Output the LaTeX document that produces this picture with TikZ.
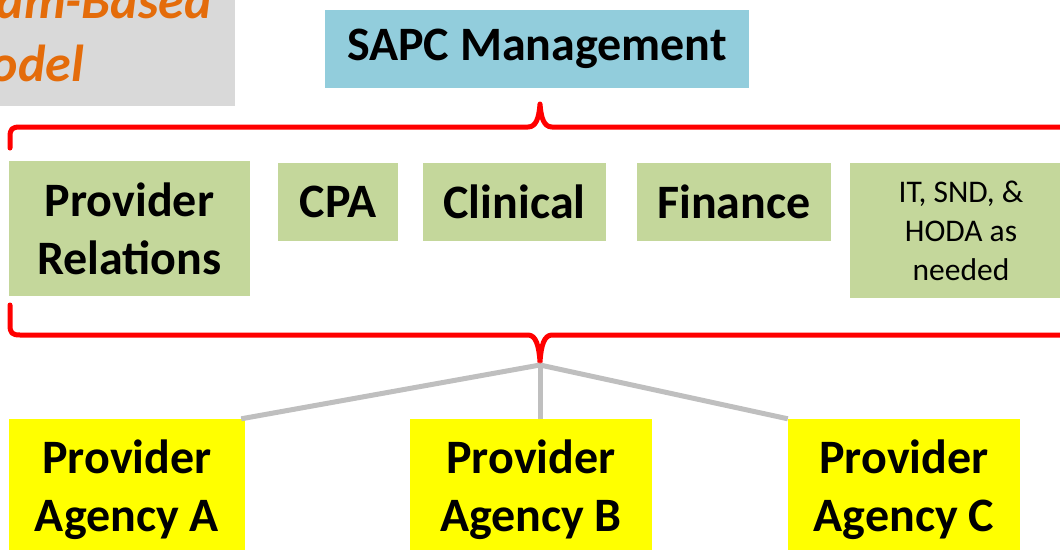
\documentclass[tikz,border=0pt]{standalone}
\usepackage{fontspec}
\setmainfont{Carlito}
\definecolor{titlegray}{RGB}{217,217,217}
\definecolor{titleorange}{RGB}{228,108,10}
\definecolor{mgmtblue}{RGB}{146,205,220}
\definecolor{deptgreen}{RGB}{196,215,155}
\definecolor{agyellow}{RGB}{255,255,0}
\definecolor{linkgray}{RGB}{191,191,191}
\definecolor{bracered}{RGB}{255,0,0}
\tikzset{
  box/.style={rectangle, inner sep=0pt, align=center, text=black,
    font=\fontsize{48}{58}\selectfont\bfseries},
  mgmt/.style={box, fill=mgmtblue},
  dept/.style={box, fill=deptgreen},
  agency/.style={box, fill=agyellow},
  smalltext/.style={font=\fontsize{31.5}{39}\selectfont},
  brace/.style={draw=bracered, line width=5pt, line join=round, line cap=round},
  link/.style={draw=linkgray, line width=5pt},
  titletext/.style={text=titleorange, inner sep=0pt,
    font=\fontsize{52}{64}\selectfont\bfseries\itshape}
}
\begin{document}
\begin{tikzpicture}[x=1pt, y=-1pt]
\useasboundingbox (0,0) rectangle (1060,549);
\clip (0,0) rectangle (1060,549);
% title box
\fill[titlegray] (-20,-20) rectangle (235,106);
\node[titletext, anchor=base east] (t1) at (212,18) {Team-Based};
\node[titletext, anchor=base east] (t2) at (84,81) {Model};
% management
\node[mgmt, minimum width=424pt, minimum height=78pt] (sapc) at (537,49) {SAPC Management};
% departments
\node[dept, minimum width=241pt, minimum height=135pt] (pr) at (129.5,228.5) {Provider\\Relations};
\node[dept, minimum width=120pt, minimum height=78pt] (cpa) at (338,202) {CPA};
\node[dept, minimum width=183pt, minimum height=78pt] (clin) at (514.5,202) {Clinical};
\node[dept, minimum width=194pt, minimum height=78pt] (fin) at (734,202) {Finance};
\node[dept, smalltext, minimum width=222pt, minimum height=135pt] (it) at (961,230.5) {\mdseries IT, SND, \&\\\mdseries HODA as\\\mdseries needed};
% braces
\draw[brace] (10,148) -- (10,137) .. controls (10,129) and (12,127) .. (20,127)
  -- (528,127) .. controls (536,127) and (539,118) .. (540,104)
  .. controls (541,118) and (544,127) .. (552,127) -- (1075,127);
\draw[brace] (10,305) -- (10,325) .. controls (10,333) and (12,335) .. (20,335)
  -- (528,335) .. controls (536,335) and (539,346) .. (540,362)
  .. controls (541,346) and (544,335) .. (552,335) -- (1075,335);
% agencies
\node[agency, minimum width=236pt, minimum height=141pt] (aa) at (127,489.5) {Provider\\Agency A};
\node[agency, minimum width=242pt, minimum height=141pt] (ab) at (531,489.5) {Provider\\Agency B};
\node[agency, minimum width=232pt, minimum height=141pt] (ac) at (904,489.5) {Provider\\Agency C};
% links
\coordinate (hub) at (540,365);
\path (aa.north east) ++(-4,0) coordinate (aaend);
\draw[link] (hub) -- (aaend);
\draw[link] (hub) -- (ab.north -| hub);
\draw[link] (hub) -- (ac.north west);
\end{tikzpicture}
\end{document}
